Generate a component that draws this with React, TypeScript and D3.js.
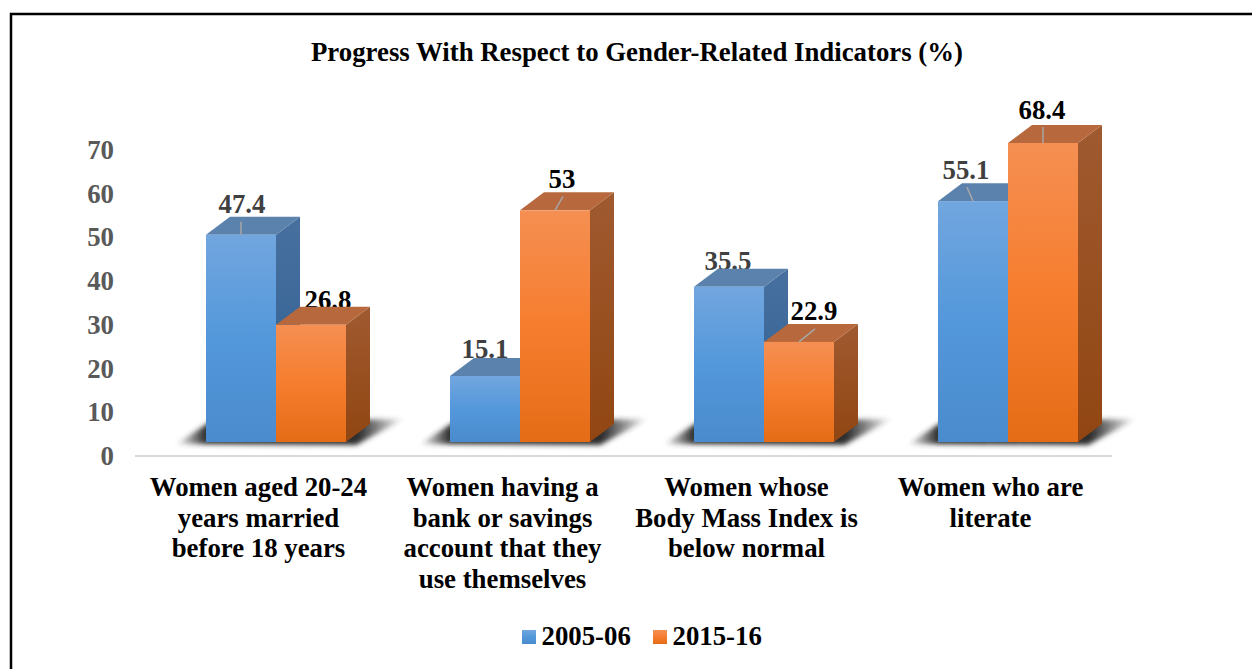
import React, { useEffect, useRef } from 'react';
import * as d3 from 'd3';

const categories = ['married', 'bank', 'bmi', 'literate'];
const categoryLines = [
  ['Women aged 20-24', 'years married', 'before 18 years'],
  ['Women having a', 'bank or savings', 'account that they', 'use themselves'],
  ['Women whose', 'Body Mass Index is', 'below normal'],
  ['Women who are', 'literate'],
];
const seriesNames = ['2005-06', '2015-16'];
const values0506 = [47.4, 15.1, 35.5, 55.1];
const values1516 = [26.8, 53, 22.9, 68.4];
const ticks = [0, 10, 20, 30, 40, 50, 60, 70];

// manual label nudges from the source chart, [dx, dy from bar top]
const labelNudge0506 = [[1, -22], [0, -18], [-1, -17], [-7, -22]];
const labelNudge1516 = [[17, -16], [7, -22], [15, -22], [-1, -24]];
// leader lines, null = none, otherwise [dx, dy]
const leader0506 = [[0, -13], null, null, [-6, -14]];
const leader1516 = [null, [8, -14], [16, -13], [0, -16]];

const FONT = '"Liberation Serif", "Times New Roman", serif';
const FONT_SIZE = 26.8;
const DEPTH_X = 24;
const DEPTH_Y = 18;

const App = () => {
  const ref = useRef<SVGSVGElement>(null);

  useEffect(() => {
    const svg = d3.select(ref.current);
    svg.selectAll('*').remove();

    const defs = svg.append('defs');
    const grad = (id: string, stops: [number, string][]) => {
      const g = defs.append('linearGradient').attr('id', id)
        .attr('x1', 0).attr('y1', 0).attr('x2', 0).attr('y2', 1);
      stops.forEach(([o, c]) => g.append('stop').attr('offset', o).attr('stop-color', c));
    };
    grad('blueFront', [[0, '#72a6df'], [0.5, '#5398db'], [1, '#4a8bcd']]);
    grad('orangeFront', [[0, '#f58f52'], [0.5, '#f67d2e'], [1, '#e56c16']]);
    grad('blueSide', [[0, '#47709f'], [1, '#2f5f92']]);
    grad('orangeSide', [[0, '#a05a30'], [1, '#914612']]);

    const shadowGrad = defs.append('linearGradient').attr('id', 'shadowFade');
    [[0, 0], [0.13, 1], [0.8, 1], [1, 0]].forEach(([o, a]) =>
      shadowGrad.append('stop').attr('offset', o).attr('stop-color', '#2e2e2e').attr('stop-opacity', a));
    defs.append('filter').attr('id', 'shadow').attr('x', '-20%').attr('y', '-100%')
      .attr('width', '140%').attr('height', '300%')
      .append('feGaussianBlur').attr('stdDeviation', 2.5);

    // frame: open on the right and at the bottom
    svg.append('path')
      .attr('d', d3.line()([[11, 669], [11, 14], [1252, 14]]) as string)
      .attr('fill', 'none').attr('stroke', '#000').attr('stroke-width', 2.5);

    svg.append('text').attr('x', 637).attr('y', 61).attr('text-anchor', 'middle')
      .attr('font-family', FONT).attr('font-weight', 700).attr('font-size', FONT_SIZE)
      .attr('fill', '#000').text('Progress With Respect to Gender-Related Indicators (%)');

    const x = d3.scaleBand<string>().domain(categories).range([206, 1078]).paddingInner(104 / 244).paddingOuter(0);
    const inner = d3.scaleBand<string>().domain(seriesNames).range([0, x.bandwidth()]);
    const y = d3.scaleLinear().domain([0, 70]).range([442, 136]);
    const axisY = d3.scaleLinear().domain([0, 70]).range([456, 150]);

    // value axis labels sit lower than the bar scale, because of the 3d floor
    svg.append('g').selectAll('text').data(ticks).join('text')
      .attr('x', 114).attr('y', d => axisY(d) + 9).attr('text-anchor', 'end')
      .attr('font-family', FONT).attr('font-weight', 700).attr('font-size', FONT_SIZE)
      .attr('fill', '#595959').text(d => d);

    svg.append('line').attr('x1', 135).attr('x2', 1112).attr('y1', 456).attr('y2', 456)
      .attr('stroke', '#d9d9d9').attr('stroke-width', 2);

    // floor shadows
    svg.append('g').selectAll('path').data(categories).join('path')
      .attr('d', c => {
        const x0 = x(c)!;
        const x1 = x0 + x.bandwidth();
        return d3.line()([[x0 - 30, y(0) + 2], [x0 + 4, y(0) - 20], [x1 + DEPTH_X + 34, y(0) - DEPTH_Y - 5], [x1 + 10, y(0) + 3]]) + 'Z';
      })
      .attr('fill', 'url(#shadowFade)').attr('filter', 'url(#shadow)');

    const series = [
      { name: seriesNames[0], values: values0506, nudge: labelNudge0506, leader: leader0506, front: 'url(#blueFront)', side: 'url(#blueSide)', top: '#5a82ad', labelFill: '#404040' },
      { name: seriesNames[1], values: values1516, nudge: labelNudge1516, leader: leader1516, front: 'url(#orangeFront)', side: 'url(#orangeSide)', top: '#b7683c', labelFill: '#000' },
    ];

    // labels go under the bars, some get clipped by the bar tops like in the source
    series.forEach(s => {
      svg.append('g').selectAll('text').data(categories).join('text')
        .attr('x', (c, i) => x(c)! + inner(s.name)! + inner.bandwidth() / 2 + s.nudge[i][0])
        .attr('y', (c, i) => y(s.values[i]) + s.nudge[i][1])
        .attr('text-anchor', 'middle')
        .attr('font-family', FONT).attr('font-weight', 700).attr('font-size', FONT_SIZE)
        .attr('fill', s.labelFill)
        .text((c, i) => s.values[i]);
    });

    series.forEach(s => {
      const g = svg.append('g').selectAll('g').data(categories).join('g');
      const left = (c: string) => x(c)! + inner(s.name)!;
      const right = (c: string) => left(c) + inner.bandwidth();
      const top = (c: string) => y(s.values[categories.indexOf(c)]);
      const line = d3.line();
      g.append('path')
        .attr('d', c => line([[right(c), top(c)], [right(c) + DEPTH_X, top(c) - DEPTH_Y], [right(c) + DEPTH_X, y(0) - DEPTH_Y], [right(c), y(0)]]) + 'Z')
        .attr('fill', s.side);
      g.append('path')
        .attr('d', c => line([[left(c), top(c)], [left(c) + DEPTH_X, top(c) - DEPTH_Y], [right(c) + DEPTH_X, top(c) - DEPTH_Y], [right(c), top(c)]]) + 'Z')
        .attr('fill', s.top);
      g.append('rect')
        .attr('x', left).attr('y', top)
        .attr('width', inner.bandwidth()).attr('height', c => y(0) - top(c))
        .attr('fill', s.front);
      // leader lines
      g.filter(c => s.leader[categories.indexOf(c)] !== null).append('line')
        .attr('x1', c => (left(c) + right(c)) / 2)
        .attr('y1', top)
        .attr('x2', c => (left(c) + right(c)) / 2 + s.leader[categories.indexOf(c)]![0])
        .attr('y2', c => top(c) + s.leader[categories.indexOf(c)]![1])
        .attr('stroke', '#a6a6a6').attr('stroke-width', 1.5);
    });

    // category labels
    const catG = svg.append('g').selectAll('text').data(categories).join('text')
      .attr('text-anchor', 'middle')
      .attr('font-family', FONT).attr('font-weight', 700).attr('font-size', FONT_SIZE)
      .attr('fill', '#000');
    catG.each(function (c, i) {
      const t = d3.select(this);
      categoryLines[i].forEach((l, k) => {
        t.append('tspan').attr('x', x(c)! + x.bandwidth() / 2 - 17.5).attr('y', 496 + k * 30.5).text(l);
      });
    });

    // legend
    const legendX = [522, 653];
    const legendFill = ['url(#blueFront)', 'url(#orangeFront)'];
    seriesNames.forEach((n, i) => {
      svg.append('rect').attr('x', legendX[i]).attr('y', 630).attr('width', 14).attr('height', 14).attr('fill', legendFill[i]);
      svg.append('text').attr('x', legendX[i] + 19.5).attr('y', 645)
        .attr('font-family', FONT).attr('font-weight', 700).attr('font-size', FONT_SIZE)
        .attr('fill', '#000').text(n);
    });
  }, []);

  return <svg ref={ref} width={1252} height={669} style={{ position: 'absolute', left: 0, top: 0, background: '#fff' }} />;
};

export default App;
